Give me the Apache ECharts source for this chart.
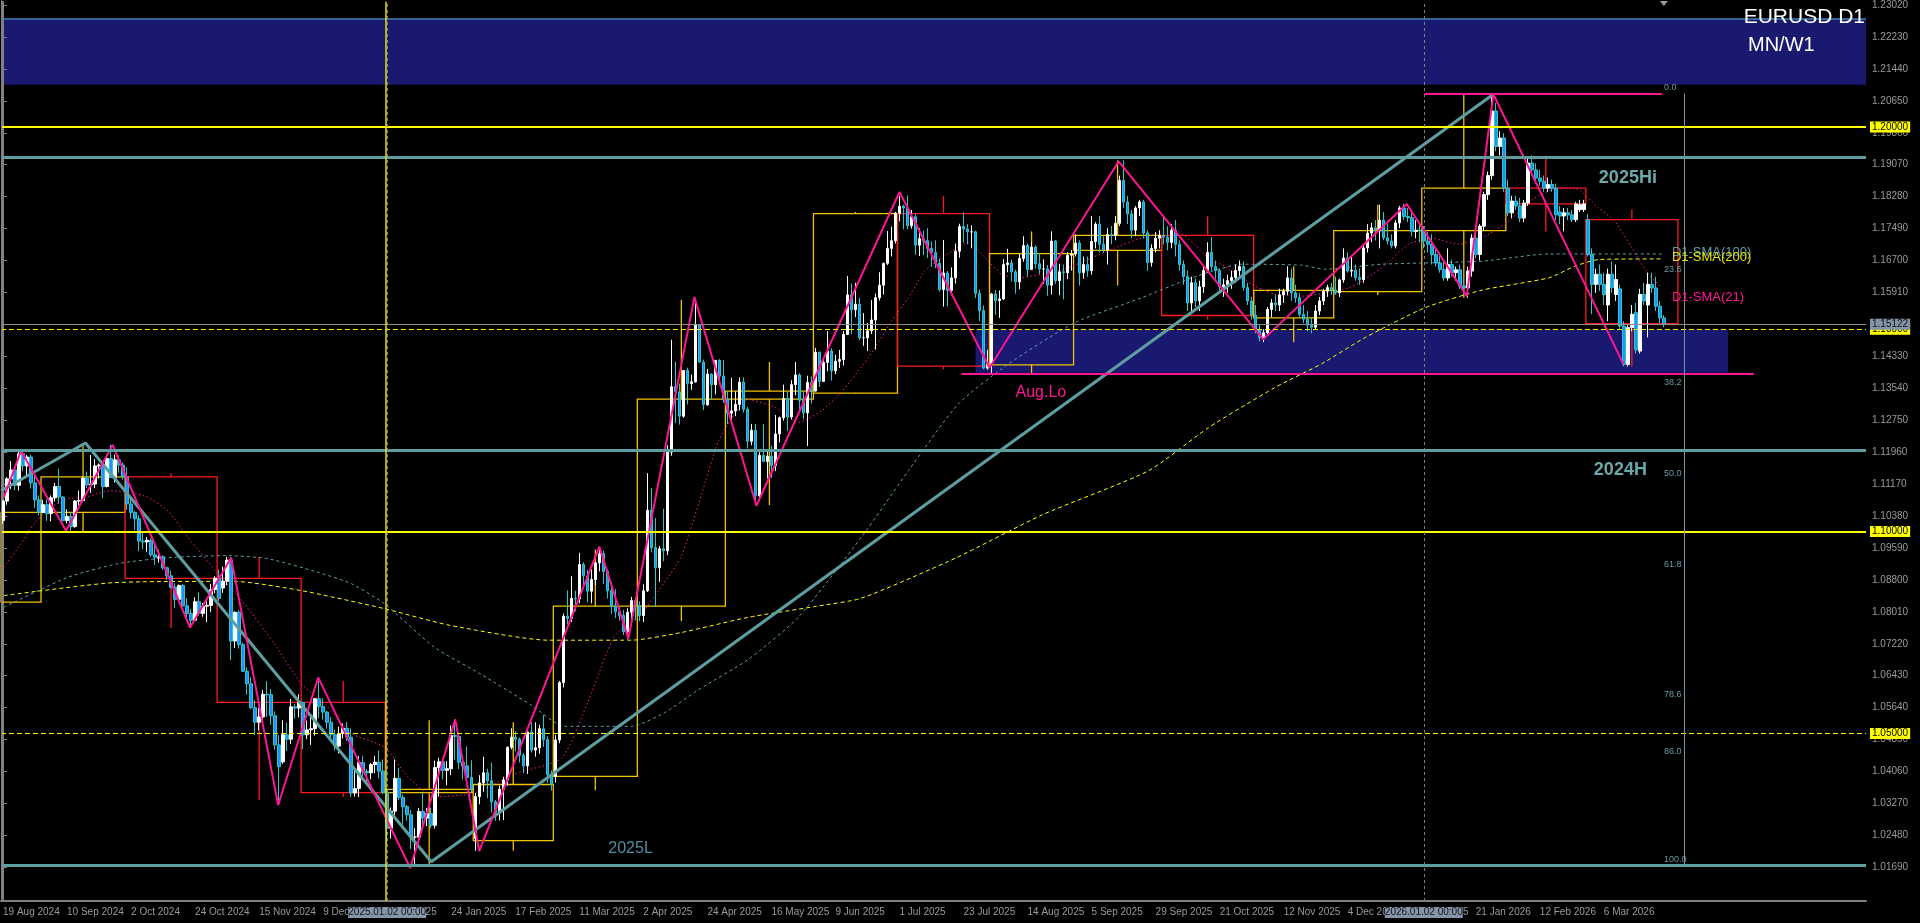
<!DOCTYPE html>
<html><head><meta charset="utf-8">
<script src="https://cdn.jsdelivr.net/npm/echarts@6/dist/echarts.min.js"></script>
<style>html,body{margin:0;padding:0;background:#000;}#c{width:1920px;height:923px;}</style>
</head><body><div id="c"></div>
<script>
// ---------------- DATA (prices in 1/10000, rows = [open, high, low, close]) ----------------
const d2024_08 = [[11027,11077,11019,11075],[11075,11134,11066,11130],[11130,11174,11105,11152],[11152,11156,11102,11114],[11114,11201,11101,11192],[11192,11202,11149,11162],[11162,11189,11132,11184],[11184,11190,11106,11120],[11120,11140,11058,11078],[11078,11089,11040,11047]];
const d2024_09 = [[11047,11078,11045,11066],[11066,11079,11026,11044],[11044,11089,11025,11083],[11083,11120,11074,11111],[11111,11155,11069,11085],[11085,11087,11025,11027],[11027,11055,11020,11037],[11037,11047,11001,11012],[11012,11078,11009,11075],[11075,11101,11064,11076],[11076,11135,11074,11132],[11132,11148,11107,11115],[11115,11189,11095,11117],[11117,11179,11107,11162],[11162,11168,11131,11164],[11164,11169,11082,11111],[11111,11185,11109,11180],[11180,11214,11132,11133],[11133,11190,11121,11177],[11177,11188,11145,11164],[11164,11171,11128,11135]];
const d2024_10 = [[11135,11158,11053,11068],[11068,11080,11032,11047],[11047,11051,11003,11031],[11031,11040,10951,10976],[10976,10998,10956,10974],[10974,10986,10950,10978],[10978,10982,10937,10942],[10942,10972,10917,10936],[10936,10954,10923,10937],[10937,10941,10905,10910],[10910,10911,10880,10890],[10890,10903,10858,10862],[10862,10872,10811,10832],[10832,10869,10825,10866],[10866,10869,10813,10816],[10816,10835,10787,10797],[10797,10808,10761,10780],[10780,10837,10779,10826],[10826,10849,10791,10797],[10797,10823,10789,10815],[10815,10828,10776,10817],[10817,10870,10801,10856],[10856,10889,10847,10884]];
const d2024_11 = [[10884,10905,10828,10834],[10860,10913,10848,10877],[10877,10937,10867,10929],[10929,10937,10682,10729],[10729,10802,10712,10800],[10800,10806,10710,10720],[10720,10725,10652,10654],[10654,10664,10596,10623],[10623,10639,10560,10564],[10564,10582,10496,10528],[10528,10563,10508,10541],[10541,10608,10524,10597],[10597,10630,10541,10596],[10596,10610,10522,10544],[10544,10555,10460,10472],[10472,10496,10335,10418],[10430,10533,10425,10497],[10497,10527,10457,10486],[10486,10586,10474,10566],[10566,10573,10537,10563],[10563,10597,10540,10577]];
const d2024_12 = [[10577,10578,10461,10497],[10497,10532,10486,10509],[10509,10544,10472,10512],[10512,10588,10495,10586],[10586,10630,10538,10567],[10567,10587,10534,10553],[10553,10556,10512,10528],[10528,10541,10479,10497],[10497,10509,10458,10469],[10469,10517,10451,10500],[10500,10525,10488,10513],[10513,10529,10482,10491],[10491,10513,10343,10353],[10353,10408,10344,10364],[10364,10444,10343,10428],[10428,10445,10385,10406],[10406,10412,10381,10403],[10403,10427,10387,10423],[10423,10445,10402,10429],[10429,10458,10389,10407],[10407,10436,10350,10354]];
const d2025_01 = [[10354,10365,10226,10266],[10266,10317,10240,10308],[10308,10436,10299,10389],[10389,10415,10335,10342],[10342,10349,10273,10319],[10319,10323,10284,10299],[10299,10311,10214,10244],[10244,10266,10177,10244],[10244,10316,10234,10307],[10307,10353,10268,10291],[10291,10316,10271,10302],[10302,10317,10266,10273],[10273,10433,10265,10416],[10416,10440,10344,10430],[10430,10435,10387,10409],[10409,10432,10372,10413],[10413,10520,10397,10495],[10495,10532,10434,10493],[10493,10495,10412,10429],[10429,10443,10387,10420],[10420,10468,10382,10391],[10391,10434,10353,10362]];
const d2025_02 = [[10240,10353,10210,10344],[10344,10397,10325,10378],[10378,10443,10356,10403],[10403,10413,10340,10383],[10383,10428,10305,10331],[10331,10336,10284,10306],[10306,10371,10285,10362],[10362,10393,10286,10385],[10385,10468,10371,10466],[10466,10513,10461,10491],[10491,10506,10456,10486],[10486,10490,10428,10446],[10446,10452,10402,10420],[10420,10506,10400,10504],[10504,10528,10453,10459],[10459,10528,10443,10465],[10465,10522,10450,10512],[10512,10546,10467,10485],[10485,10493,10378,10398],[10398,10409,10359,10374]];
const d2025_03 = [[10394,10496,10379,10484],[10484,10630,10476,10626],[10626,10797,10614,10790],[10790,10854,10770,10785],[10785,10889,10776,10834],[10834,10853,10802,10833],[10833,10947,10822,10918],[10918,10923,10867,10890],[10890,10904,10825,10852],[10852,10906,10822,10881],[10881,10925,10867,10922],[10922,10955,10901,10945],[10945,10953,10870,10901],[10901,10906,10834,10853],[10853,10866,10796,10815],[10815,10857,10786,10801],[10801,10814,10779,10792],[10792,10806,10744,10752],[10752,10810,10733,10800],[10800,10838,10780,10829],[10829,10835,10780,10816]];
const d2025_04 = [[10816,10827,10778,10792],[10792,10869,10776,10853],[10853,11144,10850,11052],[11052,11107,10948,10960],[10960,11033,10813,10910],[10910,10964,10875,10957],[10957,11056,10926,10952],[10952,11213,10941,11196],[11196,11474,11187,11358],[11358,11420,11268,11345],[11345,11366,11264,11285],[11285,11399,11281,11398],[11398,11405,11314,11366],[11366,11388,11350,11370],[11370,11573,11368,11511],[11511,11512,11417,11419],[11419,11425,11300,11313],[11313,11402,11311,11389],[11389,11391,11325,11363],[11363,11424,11339,11423],[11423,11426,11364,11384],[11384,11424,11318,11327]];
const d2025_05 = [[11327,11345,11265,11292],[11292,11380,11273,11298],[11298,11346,11285,11314],[11314,11381,11299,11369],[11369,11381,11294,11302],[11302,11308,11205,11223],[11223,11266,11213,11250],[11250,11266,11065,11088],[11088,11196,11076,11188],[11188,11266,11172,11173],[11173,11202,11131,11186],[11186,11212,11132,11163],[11163,11288,11149,11241],[11241,11284,11220,11281],[11281,11363,11274,11329],[11329,11345,11248,11283],[11283,11374,11277,11363],[11363,11419,11337,11387],[11387,11391,11297,11324],[11324,11346,11277,11293],[11293,11385,11211,11368],[11368,11383,11316,11347]];
const d2025_06 = [[11347,11454,11346,11443],[11443,11445,11357,11371],[11371,11425,11370,11418],[11418,11495,11396,11446],[11446,11453,11373,11397],[11397,11437,11389,11421],[11421,11449,11404,11425],[11425,11496,11410,11487],[11487,11632,11486,11585],[11585,11613,11488,11548],[11548,11615,11530,11562],[11562,11578,11473,11479],[11479,11540,11459,11479],[11479,11516,11446,11496],[11496,11572,11488,11523],[11523,11588,11450,11578],[11578,11641,11571,11609],[11609,11665,11586,11663],[11663,11743,11659,11700],[11700,11754,11680,11719],[11719,11790,11712,11787]];
const d2025_07 = [[11787,11830,11767,11804],[11804,11808,11747,11800],[11800,11831,11747,11756],[11756,11795,11749,11778],[11778,11787,11684,11708],[11708,11750,11681,11724],[11724,11744,11683,11719],[11719,11750,11676,11700],[11700,11717,11654,11690],[11690,11720,11651,11663],[11663,11675,11593,11598],[11598,11721,11556,11639],[11639,11644,11556,11596],[11596,11653,11589,11627],[11627,11712,11613,11693],[11693,11761,11677,11754],[11754,11789,11714,11748],[11748,11760,11710,11741],[11741,11757,11700,11741],[11741,11744,11577,11589],[11589,11598,11520,11546],[11546,11559,11401,11404],[11404,11449,11400,11415]];
const d2025_08 = [[11415,11590,11391,11587],[11587,11597,11536,11571],[11571,11596,11528,11575],[11575,11674,11572,11660],[11660,11699,11641,11664],[11664,11672,11618,11642],[11642,11647,11588,11617],[11617,11686,11599,11675],[11675,11730,11667,11707],[11707,11712,11630,11648],[11648,11715,11648,11703],[11703,11707,11650,11662],[11662,11688,11637,11649],[11649,11673,11612,11649],[11649,11659,11583,11609],[11609,11742,11586,11718],[11718,11721,11612,11620],[11620,11662,11584,11642],[11642,11660,11574,11640],[11640,11690,11624,11683],[11683,11696,11645,11686]];
const d2025_09 = [[11686,11735,11680,11713],[11713,11720,11608,11640],[11640,11680,11625,11660],[11660,11680,11630,11645],[11645,11780,11635,11717],[11717,11765,11700,11760],[11760,11780,11690,11710],[11710,11730,11690,11696],[11696,11750,11660,11734],[11734,11755,11710,11732],[11732,11780,11720,11762],[11762,11880,11755,11868],[11868,11918,11800,11815],[11815,11830,11760,11785],[11785,11795,11725,11745],[11745,11805,11730,11800],[11800,11820,11780,11815],[11815,11820,11725,11738],[11738,11745,11645,11665],[11665,11710,11655,11700],[11700,11740,11690,11725],[11725,11745,11700,11732]];
const d2025_10 = [[11732,11779,11710,11728],[11728,11755,11695,11715],[11715,11760,11700,11745],[11745,11770,11680,11710],[11710,11720,11645,11660],[11660,11670,11610,11630],[11630,11645,11545,11565],[11565,11630,11540,11615],[11615,11625,11555,11570],[11570,11620,11545,11605],[11605,11655,11590,11645],[11645,11715,11640,11690],[11690,11728,11645,11655],[11655,11670,11625,11645],[11645,11650,11590,11605],[11605,11625,11580,11610],[11610,11635,11590,11620],[11620,11645,11600,11628],[11628,11660,11615,11645],[11645,11670,11630,11655],[11655,11668,11595,11603],[11603,11615,11560,11570],[11570,11580,11524,11535]];
const d2025_11 = [[11535,11560,11490,11500],[11500,11510,11470,11479],[11479,11500,11468,11491],[11491,11555,11485,11549],[11549,11575,11530,11565],[11565,11585,11545,11560],[11560,11600,11545,11585],[11585,11600,11565,11594],[11594,11656,11585,11627],[11627,11650,11570,11590],[11590,11610,11565,11578],[11578,11590,11530,11537],[11537,11560,11515,11525],[11525,11545,11495,11510],[11510,11530,11490,11505],[11505,11560,11500,11545],[11545,11580,11535,11570],[11570,11600,11560,11594],[11594,11610,11580,11603],[11603,11615,11585,11597]];
const d2025_12 = [[11597,11630,11585,11590],[11590,11625,11580,11622],[11622,11700,11615,11676],[11676,11690,11640,11644],[11644,11680,11630,11646],[11646,11660,11620,11628],[11628,11650,11610,11623],[11623,11710,11615,11701],[11701,11760,11690,11738],[11738,11763,11715,11751],[11751,11770,11720,11745],[11745,11808,11700,11770],[11770,11790,11720,11726],[11726,11760,11710,11718],[11718,11735,11700,11706],[11706,11770,11700,11763],[11763,11805,11750,11800],[11800,11810,11770,11779],[11779,11800,11765,11776],[11776,11790,11730,11742],[11742,11770,11725,11745],[11745,11760,11715,11744]];
const d2026_01 = [[11744,11755,11700,11718],[11718,11740,11690,11710],[11710,11735,11660,11685],[11685,11700,11655,11664],[11664,11690,11640,11648],[11648,11665,11620,11627],[11627,11700,11620,11660],[11660,11672,11630,11640],[11640,11655,11620,11647],[11647,11660,11600,11607],[11607,11625,11585,11602],[11602,11655,11578,11644],[11644,11735,11630,11725],[11725,11740,11675,11685],[11685,11760,11670,11755],[11755,11840,11745,11833],[11833,11890,11820,11880],[11880,12082,11870,12040],[12040,12060,11940,11952],[11952,11990,11930,11973],[11973,11985,11840,11849]];
const d2026_02 = [[11849,11870,11780,11788],[11788,11830,11775,11817],[11817,11830,11795,11805],[11805,11825,11765,11775],[11775,11820,11765,11812],[11812,11925,11805,11911],[11911,11930,11880,11894],[11894,11910,11860,11874],[11874,11895,11855,11866],[11866,11880,11840,11849],[11849,11875,11840,11858],[11858,11870,11840,11849],[11849,11860,11770,11783],[11790,11805,11760,11780],[11780,11800,11742,11788],[11788,11800,11770,11783],[11783,11795,11765,11771],[11771,11815,11765,11810],[11796,11820,11790,11808],[11796,11820,11790,11810]];
const d2026_03 = [[11771,11785,11680,11685],[11685,11700,11537,11611],[11611,11650,11590,11636],[11636,11660,11595,11611],[11611,11640,11560,11586],[11560,11650,11520,11636],[11636,11668,11590,11603],[11586,11660,11570,11623],[11600,11610,11500,11508],[11508,11520,11408,11413],[11413,11510,11408,11504],[11504,11560,11495,11537],[11541,11565,11440,11450],[11446,11600,11440,11586],[11586,11615,11560,11570],[11560,11640,11480,11611],[11611,11640,11590,11602],[11602,11630,11545,11557],[11557,11570,11515,11528],[11528,11535,11505,11512]];

// monthly (MN) candles: [firstBar, lastBar, open, high, low, close]  (bar = index among daily bars)
const monthlyBars = [
 [-12,9,10825,11202,10778,11047],[10,30,11047,11214,11001,11135],[31,53,11135,11144,10761,10884],
 [54,74,10884,10937,10335,10577],[75,95,10577,10630,10343,10354],[96,117,10354,10533,10177,10362],
 [118,137,10235,10528,10210,10374],[138,158,10394,10955,10360,10815],[159,180,10815,11573,10778,11327],
 [181,202,11327,11419,11065,11347],[203,223,11342,11790,11340,11786],[224,246,11786,11830,11401,11409],
 [247,267,11412,11742,11391,11687],[268,289,11695,11918,11608,11732],[290,312,11732,11779,11524,11534],
 [313,332,11528,11656,11468,11596],[333,354,11593,11808,11585,11744],[355,375,11744,12082,11578,11849],
 [376,395,11849,11930,11742,11810],[396,418,11771,11796,11408,11514]
];

// moving averages: [bar, price]
const sma21 = [[0.2,1.09111],[4.5,1.09696],[7.75,1.10190],[12,1.10592],[16.2,1.10807],[20.25,1.10839],[27,1.11005],[35.25,1.10881],[41.2,1.10511],[46.2,1.09852],[53.7,1.08956],[60.25,1.08215],[67.75,1.07227],[74.5,1.06240],[81.2,1.05655],[87,1.05005],[95.25,1.04667],[101.2,1.03927],[107.75,1.03433],[117.75,1.03529],[127.75,1.04001],[139.5,1.04388],[146.2,1.05795],[152.75,1.07400],[159.5,1.07968],[165.25,1.08733],[169.5,1.09387],[174.5,1.10906],[178.7,1.12221],[182,1.12787],[186.2,1.13261],[192.75,1.13078],[198.7,1.12693],[204.5,1.12979],[209.5,1.13449],[216.2,1.14295],[222,1.15201],[226.2,1.15777],[230.25,1.16436],[234.5,1.16764],[241.2,1.17134],[246.2,1.16683],[249.5,1.16362],[253.7,1.16270],[259.5,1.16362],[266.2,1.16517],[272,1.16764],[277.75,1.17011],[284.5,1.17258],[292.75,1.17448],[297.75,1.17102],[301.2,1.16757],[305.25,1.16559],[312,1.16115],[317.75,1.15868],[324.5,1.15819],[336.2,1.16023],[344.5,1.16517],[351.2,1.17102],[357,1.17258],[363.7,1.17102],[369.5,1.17258],[376.2,1.17670],[382.75,1.18245],[388.7,1.18492],[392.75,1.18492],[398.7,1.17999],[402.75,1.17670],[407,1.17011],[411.2,1.16362],[414.5,1.16023]];
const sma100 = [[0.2,1.08124],[16.2,1.08864],[28.7,1.09202],[41.2,1.09350],[56.2,1.09400],[66.2,1.09326],[78.7,1.08987],[87,1.08709],[95.25,1.08215],[107.75,1.07136],[119.5,1.06462],[132,1.05702],[140.25,1.05178],[157,1.05178],[165.25,1.05512],[173.7,1.06079],[186.2,1.06832],[198.7,1.07874],[214.5,1.09859],[226.2,1.11498],[238.7,1.13152],[251.2,1.14140],[267.75,1.15160],[284.5,1.15777],[297,1.16270],[309.5,1.16609],[324.5,1.16584],[330.25,1.16485],[344.5,1.16609],[369.5,1.16683],[386.2,1.16863],[414.5,1.16863]];
const sma200 = [[0.2,1.08412],[27.75,1.08733],[57.75,1.08765],[74.5,1.08536],[95.25,1.08091],[111.2,1.07686],[136.2,1.07309],[157,1.07309],[169.5,1.07499],[186.2,1.07874],[202.75,1.08140],[214.5,1.08348],[238.25,1.09350],[259.7,1.10412],[286.2,1.11498],[301.2,1.12567],[317.75,1.13555],[329.5,1.14147],[340.25,1.14789],[355.25,1.15530],[369.5,1.15967],[386.2,1.16270],[392.75,1.16559],[398.7,1.16725],[414.5,1.16740]];

// zigzags: [bar, price]
const zigzagD1 = [[0.2,1.10839],[4.5,1.11992],[15.75,1.10017],[27.4,1.12140],[46.75,1.07623],[57,1.09350],[68.75,1.03228],[78.75,1.06388],[101.75,1.01673],[113,1.05351],[119,1.02092],[149,1.09622],[156.25,1.07351],[172.75,1.15794],[188.25,1.10634],[224,1.18394],[246.5,1.14049],[278.75,1.19151],[314.9,1.14750],[350.75,1.18097],[365.75,1.15819],[372.4,1.20813],[404.9,1.14132]];
const zigzagHTF = [[-0.5,1.11005],[20.6,1.12185],[107,1.01828],[372.4,1.20813]];

// levels
const priceTicks = [1.23020,1.22230,1.21440,1.20650,1.19860,1.19070,1.18280,1.17490,1.16700,1.15910,1.15120,1.14330,1.13540,1.12750,1.11960,1.11170,1.10380,1.09590,1.08800,1.08010,1.07220,1.06430,1.05640,1.04850,1.04060,1.03270,1.02480,1.01690];
const roundLevels = [1.20000, 1.10000];
const dashedLevels = [1.15000, 1.05000];
const swingLevels = [1.19250, 1.12009, 1.01730];
const bidPrice = 1.15122;
const upperZone = [1.21045, 1.22674];
const lowerZone = [1.13925, 1.15000];
const lowerZoneBars = [243, 431];
const augLow = 1.13910;
const augLowBars = [239.5, 437.5];
const fibHigh = 1.20835, fibLow = 1.01759;
const fibBars = [355.25, 414.5];
const fibLevels = [0, 23.6, 38.2, 50.0, 61.8, 78.6, 86.0, 100.0];
const separatorBars = [96, 355];
const markerVertical = 95.6;
const fibVerticalBar = 420;
const annotations = [
 {text:'2025Hi', bar:398.75, price:1.18732, kind:'swing'},
 {text:'2024H', bar:397.5, price:1.11511, kind:'swing'},
 {text:'2025L', bar:151.25, price:1.02142, kind:'low'},
 {text:'Aug.Lo', bar:253, price:1.13424, kind:'aug'},
 {text:'D1-SMA(100)', bar:417, price:1.16888, kind:'s100'},
 {text:'D1-SMA(200)', bar:417, price:1.16765, kind:'s200'},
 {text:'D1-SMA(21)', bar:417, price:1.15777, kind:'s21'}
];

// ---------------- BUILD ----------------
const dailyRows = [].concat(d2024_08,d2024_09,d2024_10,d2024_11,d2024_12,d2025_01,d2025_02,d2025_03,d2025_04,d2025_05,d2025_06,d2025_07,d2025_08,d2025_09,d2025_10,d2025_11,d2025_12,d2026_01,d2026_02,d2026_03);
const BAR_COUNT = dailyRows.length;
const SLOTS = 466;
const dates = (function(){
  const out = []; const d = new Date(Date.UTC(2024,7,19));
  while (out.length < SLOTS) {
    const wd = d.getUTCDay(), m = d.getUTCMonth(), day = d.getUTCDate();
    if (wd !== 0 && wd !== 6 && !(m === 11 && day === 25) && !(m === 0 && day === 1)) out.push(d.toISOString().slice(0,10));
    d.setUTCDate(d.getUTCDate()+1);
  }
  return out;
})();
const MON = ['Jan','Feb','Mar','Apr','May','Jun','Jul','Aug','Sep','Oct','Nov','Dec'];
function fmtDate(v){ const p = v.split('-'); return (+p[2]) + ' ' + MON[+p[1]-1] + ' ' + p[0]; }
const candleData = dailyRows.map(r => [r[0]/1e4, r[3]/1e4, r[2]/1e4, r[1]/1e4]);
const monthData = monthlyBars.map(r => [r[0], r[1], r[2]/1e4, r[5]/1e4, r[3]/1e4, r[4]/1e4]);

const FONT = '"Liberation Sans", Arial, sans-serif';
const Y_MIN = 1.00858, Y_MAX = 1.23101;
const tickFn = (i) => i % 16 === 0 && i < BAR_COUNT;
const GOLD = '#f2c200', RED = '#ff1a1a', TEAL = '#5f9ea0', PINK = '#ff1493', YEL = '#ffff00', NAVY = '#191970';

function tag(txt, bg, fg){ return {show:true, position:'end', distance:4, formatter:txt, backgroundColor:bg, color:fg, fontSize:10, fontFamily:FONT, padding:[1,2,0,2]}; }

const lineMarks = [];
swingLevels.forEach(v => lineMarks.push({yAxis:v, lineStyle:{color:TEAL, width:3, type:'solid'}, label:{show:false}}));
lineMarks.push({yAxis:upperZone[1], lineStyle:{color:'#4682b4', width:1.5, type:'solid'}, label:{show:false}});
dashedLevels.forEach(v => lineMarks.push({yAxis:v, lineStyle:{color:YEL, width:1, type:[5,3]}, label:tag(v.toFixed(5), YEL, '#000')}));
roundLevels.forEach(v => lineMarks.push({yAxis:v, lineStyle:{color:YEL, width:2, type:'solid'}, label:tag(v.toFixed(5), YEL, '#000')}));
lineMarks.push({yAxis:bidPrice, lineStyle:{color:'#8c8c8c', width:1, type:'solid'}, label:tag(bidPrice.toFixed(5), '#8394a6', '#111')});
separatorBars.forEach(b => lineMarks.push({xAxis:b, lineStyle:{color:'#808080', width:1, type:[3,3]}, label:{show:false}}));
lineMarks.push({xAxis:markerVertical, lineStyle:{color:'#e6e600', width:1.5, type:'solid'}, label:{show:false}});
lineMarks.push([{coord:[augLowBars[0], augLow], lineStyle:{color:PINK, width:2, type:'solid'}, label:{show:false}}, {coord:[augLowBars[1], augLow]}]);
lineMarks.push([{coord:[fibBars[0], fibHigh], lineStyle:{color:PINK, width:2, type:'solid'}, label:{show:false}}, {coord:[fibBars[1], fibHigh]}]);
lineMarks.push([{coord:[fibVerticalBar, fibHigh], lineStyle:{color:'#7896a8', width:1, type:'solid'}, label:{show:false}}, {coord:[fibVerticalBar, fibLow]}]);

const zoneData = [[-0.5, SLOTS-0.5, upperZone[0], upperZone[1]], [lowerZoneBars[0], lowerZoneBars[1], lowerZone[0], lowerZone[1]]];

const chart = echarts.init(document.getElementById('c'), null, {renderer:'canvas'});
const option = {
  backgroundColor:'#000', animation:false,
  textStyle:{fontFamily:FONT},
  grid:{left:0, top:0, width:1866, height:901},
  xAxis:[
    {type:'category', data:dates, boundaryGap:true,
     axisLine:{lineStyle:{color:'#808080', width:2}},
     axisTick:{alignWithLabel:true, interval:tickFn, length:4, lineStyle:{color:'#808080'}},
     axisLabel:{interval:tickFn, align:'left', color:'#9a9a9a', fontSize:10, margin:6, formatter:fmtDate},
     splitLine:{show:false}},
    {type:'value', min:-0.5, max:SLOTS-0.5, show:false}
  ],
  yAxis:{type:'value', position:'right', min:Y_MIN, max:Y_MAX,
    axisLine:{show:true, lineStyle:{color:'#808080', width:2}},
    axisTick:{show:true, length:4, customValues:priceTicks, lineStyle:{color:'#808080'}},
    axisLabel:{customValues:priceTicks, formatter:v => v.toFixed(5), color:'#9a9a9a', fontSize:10, margin:6},
    splitLine:{show:false}},
  series:[
    {type:'custom', xAxisIndex:1, yAxisIndex:0, z:0, silent:true, data:zoneData,
     renderItem:function(params, api){
       const cs = params.coordSys;
       let p1 = api.coord([api.value(0), api.value(3)]), p2 = api.coord([api.value(1), api.value(2)]);
       const x1 = Math.max(p1[0], cs.x), x2 = Math.min(p2[0], cs.x+cs.width);
       return {type:'rect', shape:{x:x1, y:p1[1], width:x2-x1, height:p2[1]-p1[1]}, style:{fill:NAVY}};
     }},
    {type:'custom', xAxisIndex:1, yAxisIndex:0, z:1, silent:true, data:monthData,
     renderItem:function(params, api){
       const cs = params.coordSys;
       const s = api.value(0), e = api.value(1), o = api.value(2), c = api.value(3), h = api.value(4), l = api.value(5);
       const col = c >= o ? GOLD : RED;
       let x1 = api.coord([s-0.5, o])[0], x2 = api.coord([e+0.5, o])[0];
       x1 = Math.max(x1, cs.x); x2 = Math.min(x2, cs.x+cs.width);
       const yT = api.coord([s, Math.max(o,c)])[1], yB = api.coord([s, Math.min(o,c)])[1];
       const yH = api.coord([s, h])[1], yL = api.coord([s, l])[1];
       const xm = api.coord([(s+e)/2, o])[0];
       const st = {stroke:col, lineWidth:1.3, fill:null};
       return {type:'group', children:[
         {type:'rect', shape:{x:x1, y:yT, width:x2-x1, height:Math.max(yB-yT,0.5)}, style:st},
         {type:'line', shape:{x1:xm, y1:yH, x2:xm, y2:yT}, style:st},
         {type:'line', shape:{x1:xm, y1:yB, x2:xm, y2:yL}, style:st}
       ]};
     }},
    {type:'line', name:'sma200', xAxisIndex:1, data:sma200, showSymbol:false, smooth:0.2, z:2, silent:true, lineStyle:{color:YEL, width:1, type:[4,3]}},
    {type:'line', name:'sma100', xAxisIndex:1, data:sma100, showSymbol:false, smooth:0.2, z:2, silent:true, lineStyle:{color:TEAL, width:1, type:[3,3]}},
    {type:'line', name:'sma21', xAxisIndex:1, data:sma21, showSymbol:false, smooth:0.2, z:2, silent:true, lineStyle:{color:PINK, width:1, type:[1.5,2.5]}},
    {type:'candlestick', xAxisIndex:0, yAxisIndex:0, data:candleData, barWidth:3, z:3, silent:true,
     itemStyle:{color:'#ffffff', color0:'#1e90ff', borderColor:'#ffffff', borderColor0:'#2ec8c8', borderWidth:1}},
    {type:'line', xAxisIndex:1, data:zigzagHTF, showSymbol:false, z:4, silent:true, lineStyle:{color:TEAL, width:3}},
    {type:'line', xAxisIndex:1, data:zigzagD1, showSymbol:false, z:4, silent:true, lineStyle:{color:PINK, width:2}},
    {type:'line', xAxisIndex:1, data:[[-50, 1.1]], showSymbol:false, z:5, silent:true, lineStyle:{opacity:0},
     markLine:{silent:true, precision:6, symbol:['none','none'], animation:false, data:lineMarks}}
  ]
};
chart.setOption(option);

// ---------- text annotations anchored through the axes ----------
const toPx = (bar, price) => chart.convertToPixel({seriesIndex:2}, [bar, price]);
const styles = {
  swing:{font:'bold 18px '+FONT, fill:'#6aa8ac'},
  low:{font:'16px '+FONT, fill:'#4f8ea0'},
  aug:{font:'16px '+FONT, fill:PINK},
  s100:{font:'13px '+FONT, fill:TEAL},
  s200:{font:'13px '+FONT, fill:'#e6e600'},
  s21:{font:'13px '+FONT, fill:PINK}
};
const g = [];
annotations.forEach(a => {
  const p = toPx(a.bar, a.price);
  g.push({type:'text', x:p[0], y:p[1], z:100, silent:true, style:Object.assign({text:a.text, textAlign:'left', textVerticalAlign:'middle'}, styles[a.kind])});
});
fibLevels.forEach(lv => {
  const price = fibHigh - (fibHigh - fibLow) * lv / 100;
  const p = toPx(415, price);
  g.push({type:'text', x:p[0], y:p[1]-1, z:100, silent:true, style:{text:lv.toFixed(1), font:'9px '+FONT, fill:'#6a9ca2', textAlign:'left', textVerticalAlign:'bottom'}});
});
separatorBars.forEach(b => {
  const x = toPx(b, 1.1)[0];
  const d = dates[b].replace(/-/g,'.') + ' 00:00';
  g.push({type:'rect', z:100, silent:true, shape:{x:x-39, y:907, width:78, height:11}, style:{fill:'#8596aa'}});
  g.push({type:'text', z:101, silent:true, x:x, y:912.5, style:{text:d, font:'10px '+FONT, fill:'#111', textAlign:'center', textVerticalAlign:'middle'}});
});
const xs = toPx(415, 1.1)[0];
g.push({type:'polygon', z:100, silent:true, shape:{points:[[xs-4,1],[xs+4,1],[xs,6]]}, style:{fill:'#9a9a9a'}});
g.push({type:'line', z:100, silent:true, shape:{x1:1.5, y1:0, x2:1.5, y2:901}, style:{stroke:'#808080', lineWidth:1}});
g.push({type:'text', z:100, silent:true, x:1865, y:7, style:{text:'EURUSD D1', font:'21px '+FONT, fill:'#ffffff', textAlign:'right', textVerticalAlign:'top'}});
g.push({type:'text', z:100, silent:true, x:1748, y:35, style:{text:'MN/W1', font:'20px '+FONT, fill:'#ffffff', textAlign:'left', textVerticalAlign:'top'}});
chart.setOption({graphic:{elements:g}});
</script></body></html>
